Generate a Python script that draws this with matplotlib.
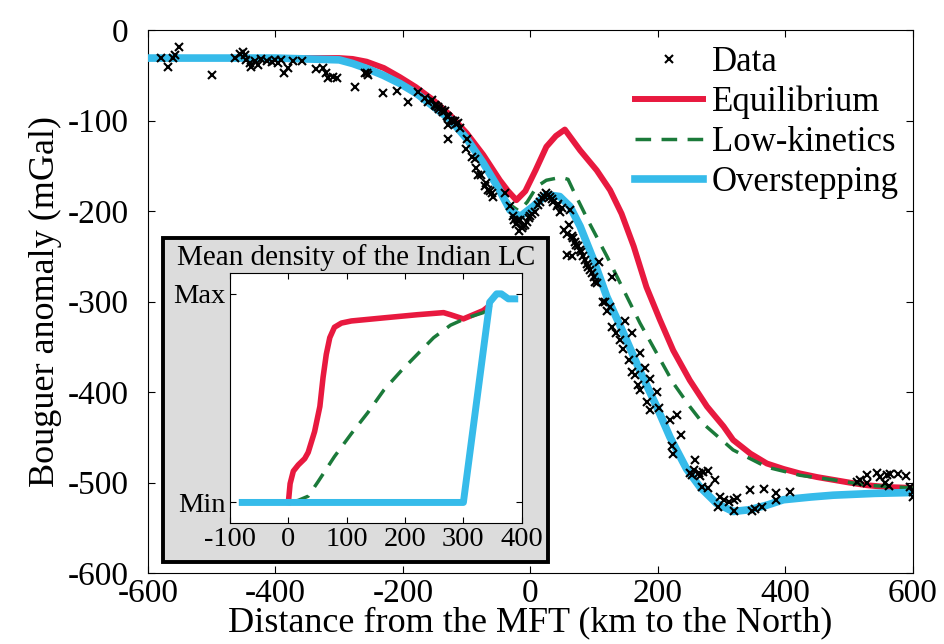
import numpy as np
import matplotlib
matplotlib.use("Agg")
import matplotlib.pyplot as plt
from matplotlib.patches import Rectangle

plt.rcParams["font.family"] = ["Liberation Serif", "DejaVu Serif"]
plt.rcParams["axes.unicode_minus"] = False

RED = "#E8193F"
GREEN = "#1B7A3A"
BLUE = "#36BBEA"

# main panel: model curves (distance km, Bouguer anomaly mGal)
eq_x = [-600, -400, -300, -279, -257, -230, -205, -180, -153, -126, -100, -74, -48, -35,
        -22, -8, 8, 25, 40, 54, 78, 104, 125, 143, 162, 182, 203, 224, 250, 277, 303,
        318, 345, 371, 397, 423, 450, 475, 500, 528, 560, 600]
eq_y = [-31, -31, -31, -32, -35, -42, -52, -63, -77, -94, -114, -138, -166, -178,
        -188, -178, -155, -129, -117, -110, -133, -155, -177, -203, -239, -284, -320,
        -354, -387, -416, -438, -453, -468, -479, -485, -490, -494, -497, -500, -503,
        -505, -506]

lk_x = [-600, -400, -300, -279, -255, -231, -205, -179, -153, -126, -100, -74, -50,
        -32, -18, -5, 10, 25, 39, 54, 59, 67, 93, 120, 146, 172, 198, 224, 250, 271,
        318, 371, 423, 475, 528, 600]
lk_y = [-31, -31, -33, -37, -43, -50, -59, -70, -84, -99, -120, -147, -175, -193,
        -200, -190, -173, -166, -164, -164, -165, -177, -214, -250, -287, -324, -357,
        -390, -416, -435, -464, -483, -492, -497, -503, -506]

ov_x = [-600, -400, -300, -279, -255, -231, -205, -179, -153, -126, -100, -74, -50,
        -32, -16, 4, 25, 46, 62, 78, 99, 120, 146, 172, 198, 219, 245, 266, 292, 318,
        344, 371, 397, 440, 475, 540, 600]
ov_y = [-31, -31, -33, -37, -43, -50, -59, -70, -84, -99, -120, -147, -175, -199,
        -206, -195, -182, -184, -195, -217, -254, -295, -335, -377, -416, -450, -485,
        -505, -523, -532, -530, -525, -519, -516, -514, -512, -511]

# observed gravity data
data_x = [-580, -569, -561, -558, -551, -500, -464, -456, -451, -448, -446, -440, -438,
          -432, -427, -422, -414, -406, -401, -396, -391, -387, -380, -372, -358, -336,
          -326, -320, -317, -310, -304, -275, -257, -255, -260, -231, -209, -192, -176,
          -166, -160, -155, -150, -145, -139, -134, -129, -124, -118, -113, -129, -130,
          -100, -101, -92, -87, -82, -77, -69, -66, -61, -58, -40, -32, -27, -22, -14,
          -9, -3, 2, 7, -16, -19, -11, 0, 12, 18, 25, 31, 36, 41, 46, 52, 57, 62, 65,
          70, 75, 80, 83, 88, 93, 99, 57, 65, 107, 128, 104, 117, 125, 114, 120, 128,
          135, 141, 148, 146, 154, 159, 159, 164, 172, 169, 172, 180, 187, 183, 188,
          199, 201, 219, 230, 237, 222, 224, 258, 256, 264, 253, 271, 269, 250, 266,
          279, 290, 279, 298, 303, 311, 319, 324, 295, 319, 345, 347, 353, 363, 366,
          386, 386, 407, 512, 517, 528, 544, 549, 559, 564, 577, 590, 528, 557, 562,
          596, 600, 600,
          -148, -143, -137, -131, -121, -116, -110, -85, -72, -63, 15, 22, 28, 34, 44,
          50, 60, 67, 72, 78, 85, 91, 96, 102, -25, -18, -6]
data_y = [-31, -41, -31, -28, -19, -50, -31, -26, -24, -28, -33, -37, -41, -34, -39,
          -32, -34, -35, -33, -36, -33, -47, -42, -34, -34, -43, -42, -48, -53, -52,
          -53, -63, -48, -50, -48, -70, -67, -79, -68, -75, -79, -77, -83, -85, -88,
          -90, -96, -99, -101, -103, -105, -120, -120, -132, -140, -142, -160, -160,
          -169, -177, -180, -184, -180, -195, -206, -214, -219, -215, -208, -203, -201,
          -210, -210, -217, -206, -193, -186, -180, -184, -190, -195, -201, -221, -225,
          -199, -228, -234, -239, -245, -250, -258, -265, -273, -249, -250, -256, -273,
          -280, -300, -306, -300, -311, -328, -335, -343, -322, -352, -365, -335, -378,
          -381, -357, -392, -398, -374, -386, -411, -420, -400, -418, -431, -425, -448,
          -460, -468, -475, -486, -490, -492, -488, -505, -490, -493, -487, -497, -506,
          -516, -519, -521, -519, -517, -527, -532, -508, -531, -529, -527, -507, -512,
          -519, -511, -499, -497, -492, -490, -494, -492, -491, -491, -493, -501, -501,
          -504, -505, -510, -516,
          -84, -87, -91, -95, -100, -104, -108, -152, -172, -178, -190, -183, -182, -187,
          -192, -197, -215, -230, -238, -243, -254, -262, -268, -278, -210, -222, -212]

xticks_main = [-600, -400, -200, 0, 200, 400, 600]
yticks_main = [0, -100, -200, -300, -400, -500, -600]

# inset: mean density of the Indian lower crust (normalised Min..Max)
in_eq_x = [0, 3, 8.5, 17, 28, 34, 45, 54, 59.5, 65, 71, 79, 91, 108, 164, 221, 266,
           278, 300, 317, 334, 343]
in_eq_y = [0.0, 0.09, 0.15, 0.18, 0.21, 0.24, 0.34, 0.46, 0.60, 0.71, 0.79, 0.84,
           0.86, 0.87, 0.885, 0.90, 0.91, 0.90, 0.88, 0.90, 0.92, 0.94]
in_lk_x = [-79, 0, 17, 34, 51, 79, 108, 136, 164, 193, 221, 249, 278, 306, 334, 343]
in_lk_y = [0.0, 0.0, 0.01, 0.03, 0.10, 0.22, 0.33, 0.43, 0.54, 0.63, 0.71, 0.79,
           0.85, 0.885, 0.91, 0.93]
in_ov_x = [-79, 300, 345, 357, 365, 377, 388]
in_ov_y = [0.0, 0.0, 0.96, 1.0, 1.0, 0.976, 0.976]

xticks_inset = [-100, 0, 100, 200, 300, 400]
yticks_inset = [0, 1]
ylabels_inset = ["Min", "Max"]

fig = plt.figure(figsize=(9.45, 6.44), dpi=100)
ax = fig.add_axes([0.1566, 0.1102, 0.8094, 0.8432])

ax.plot(eq_x, eq_y, color=RED, lw=4.3, label="Equilibrium", zorder=2)
ax.plot(lk_x, lk_y, color=GREEN, lw=2.5, ls=(0, (4.5, 3)), label="Low-kinetics", zorder=2)
ax.plot(ov_x, ov_y, color=BLUE, lw=5.5, label="Overstepping", zorder=3)
ax.plot(data_x, data_y, ls="none", marker="x", ms=5.5, mew=1.5, color="black",
        label="Data", zorder=4)

ax.set_xlim(-600, 600)
ax.set_ylim(-600, 0)
ax.set_xticks(xticks_main)
ax.set_yticks(yticks_main)
ax.tick_params(direction="in", top=True, right=True, labelsize=24, length=5)
ax.tick_params(axis="y", pad=14)
ax.tick_params(axis="x", pad=4)
ax.set_xlabel("Distance from the MFT (km to the North)", fontsize=26, labelpad=-2)
ax.set_ylabel("Bouguer anomaly (mGal)", fontsize=26, labelpad=4)

h, l = ax.get_legend_handles_labels()
order = [3, 0, 1, 2]
ax.legend([h[i] for i in order], [l[i] for i in order], loc="upper right",
          bbox_to_anchor=(0.995, 0.99), frameon=False, fontsize=25,
          handlelength=1.96, handletextpad=0.26, labelspacing=0.2,
          borderaxespad=0.0, borderpad=0.3)

# grey framed inset box
box = Rectangle((0.1725, 0.1273), 0.4074, 0.5031, transform=fig.transFigure,
                facecolor="#dcdcdc", edgecolor="black", lw=2.8, zorder=4)
fig.add_artist(box)
fig.text(0.377, 0.600, "Mean density of the Indian LC", ha="center", va="center",
         fontsize=21, zorder=6)

axi = fig.add_axes([0.2434, 0.1874, 0.3087, 0.3887], zorder=5)
axi.plot(in_eq_x, in_eq_y, color=RED, lw=4, zorder=2)
axi.plot(in_lk_x, in_lk_y, color=GREEN, lw=2.5, ls=(0, (4.5, 3)), zorder=2)
axi.plot(in_ov_x, in_ov_y, color=BLUE, lw=5, zorder=3)
axi.set_xlim(-100, 400)
axi.set_ylim(-0.1, 1.1)
axi.set_xticks(xticks_inset)
axi.set_yticks(yticks_inset)
axi.set_yticklabels(ylabels_inset)
axi.tick_params(direction="in", top=True, right=True, labelsize=20.5, length=4, pad=3)

fig.savefig("out.png", dpi=100)
